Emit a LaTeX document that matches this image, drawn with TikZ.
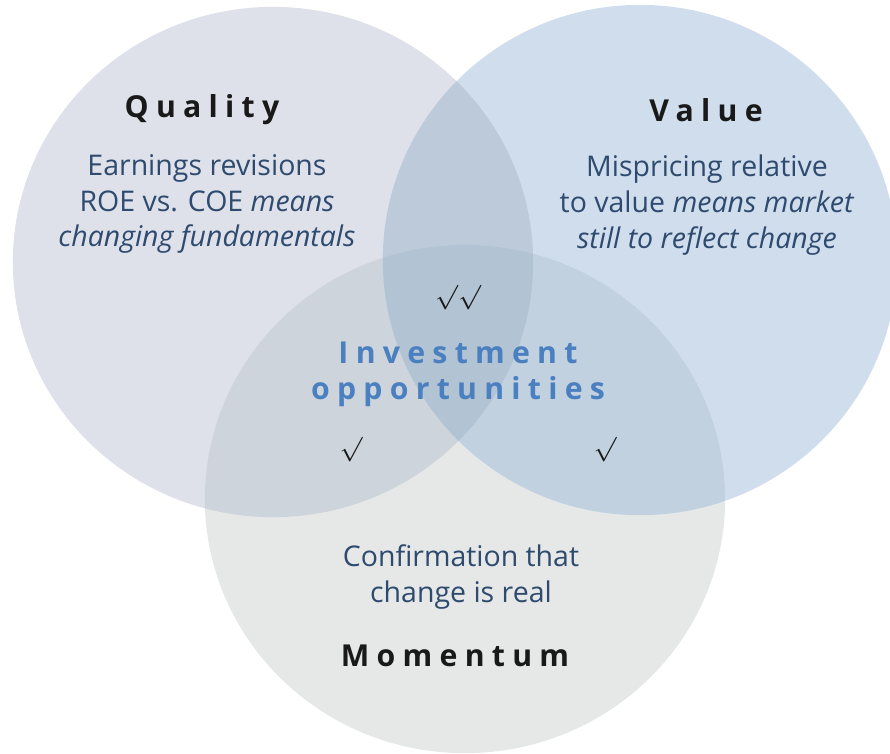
\documentclass[tikz,border=0pt]{standalone}
\usepackage{fontspec}
\setmainfont{Open Sans}
\newfontfamily\spaced[LetterSpace=24]{Open Sans}

\definecolor{qualfill}{HTML}{DEE1E9}
\definecolor{valfill}{HTML}{D0DDEC}
\definecolor{momfill}{HTML}{E6E8E8}
\definecolor{qvfill}{HTML}{BCCADA}
\definecolor{qmfill}{HTML}{CED4DC}
\definecolor{vmfill}{HTML}{C1D1E0}
\definecolor{allfill}{HTML}{B2C3D3}
\definecolor{bodytext}{HTML}{2E4A6E}
\definecolor{invblue}{HTML}{4A7FC0}

\tikzset{
  head/.style={text=black!90, font=\fontsize{8.6}{10.3}\selectfont\spaced\bfseries},
  body/.style={text=bodytext, align=center, font=\fontsize{8.1}{10.2}\selectfont},
  tick/.style={text=black!90, font=\fontsize{6.8}{8}\selectfont},
}

\begin{document}
\begin{tikzpicture}[x=0.01cm, y=-0.01cm]
\useasboundingbox (0,0) rectangle (890,753);

\coordinate (cq) at (273,262);
\coordinate (cv) at (640,260);
\coordinate (cm) at (465,499);

% the three sets
\fill[qualfill] (cq) ellipse [x radius=2.6cm, y radius=2.55cm];
\fill[valfill] (cv) ellipse [x radius=2.57cm, y radius=2.55cm];
\fill[momfill] (cm) ellipse [x radius=2.6cm, y radius=2.54cm];

% overlaps
\begin{scope}
  \clip (cq) ellipse [x radius=2.6cm, y radius=2.55cm];
  \fill[qvfill] (cv) ellipse [x radius=2.57cm, y radius=2.55cm];
  \fill[qmfill] (cm) ellipse [x radius=2.6cm, y radius=2.54cm];
\end{scope}
\begin{scope}
  \clip (cv) ellipse [x radius=2.57cm, y radius=2.55cm];
  \fill[vmfill] (cm) ellipse [x radius=2.6cm, y radius=2.54cm];
\end{scope}
\begin{scope}
  \clip (cq) ellipse [x radius=2.6cm, y radius=2.55cm];
  \clip (cv) ellipse [x radius=2.57cm, y radius=2.55cm];
  \fill[allfill] (cm) ellipse [x radius=2.6cm, y radius=2.54cm];
\end{scope}

\node[head] (quality) at (202,110) {Quality};
\node[body] (qtext) at (207,204) {Earnings revisions\\ROE vs. COE \textit{means}\\\textit{changing fundamentals}};

\node[head] (value) at (706,110) {Value};
\node[body] (vtext) at (707,205) {Mispricing relative\\to value \textit{means market}\\\textit{still to reflect change}};

\node[body] (mtext) at (461,577) {Confirmation that\\change is real};
\node[head] (momentum) at (455,656) {Momentum};

\node[head, text=invblue, align=center, font=\fontsize{8.6}{10.24}\selectfont\spaced\bfseries] (invest) at (458,374) {Investment\\opportunities};

\node[tick] (tickqv) at (458,298) {$\surd\surd$};
\node[tick] (tickqm) at (351,450) {$\surd$};
\node[tick] (tickvm) at (605,450) {$\surd$};

\end{tikzpicture}
\end{document}
